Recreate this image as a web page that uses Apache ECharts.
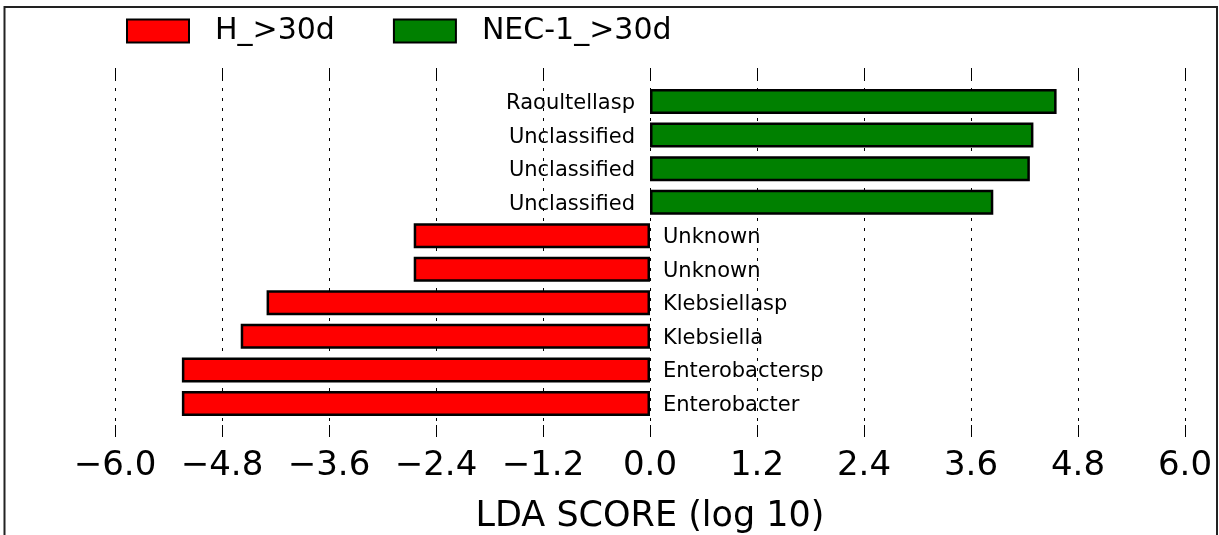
<!DOCTYPE html>
<html>
<head>
<meta charset="utf-8">
<script src="https://cdn.jsdelivr.net/npm/echarts@6/dist/echarts.min.js"></script>
<style>
html,body{margin:0;padding:0;background:#fff;}
#chart{width:1219px;height:535px;}
</style>
</head>
<body>
<div id="chart"></div>
<script>
// Categories top to bottom (padded with empty slots at both ends)
var categories = ['', 'Raoultellasp', 'Unclassified', 'Unclassified', 'Unclassified', 'Unknown', 'Unknown', 'Klebsiellasp', 'Klebsiella', 'Enterobactersp', 'Enterobacter', ''];
var seriesNames = ['H_>30d', 'NEC-1_>30d'];
var hValues   = [null, null, null, null, null, -2.65, -2.65, -4.30, -4.59, -5.25, -5.25, null];
var necValues = [null, 4.56, 4.30, 4.26, 3.85, null, null, null, null, null, null, null];
var xTicks = { min: -6, max: 6, interval: 1.2 };

var FONT = 'DejaVu Sans';
var axisData = categories.map(function (c, i) { return String(i); });

function barLabel(pos, dist) {
  return {
    show: true,
    position: pos,
    distance: dist,
    offset: [0, 2],
    fontFamily: FONT,
    fontSize: 21,
    color: '#000',
    formatter: function (p) { return categories[p.dataIndex]; }
  };
}

var chart = echarts.init(document.getElementById('chart'), null, { renderer: 'canvas' });
chart.setOption({
  animation: false,
  backgroundColor: '#fff',
  textStyle: { fontFamily: FONT },
  graphic: [{
    type: 'rect',
    shape: { x: 4.5, y: 7, width: 1212.5, height: 600 },
    style: { fill: 'none', stroke: '#222', lineWidth: 2 },
    silent: true,
    z: 100
  }],
  legend: {
    left: 126,
    top: 16,
    padding: 0,
    icon: 'rect',
    itemWidth: 62,
    itemHeight: 23,
    itemGap: 58,
    itemStyle: { borderColor: '#000', borderWidth: 2 },
    textStyle: { fontFamily: FONT, fontSize: 30, color: '#000', padding: [0, 0, 0, 21] },
    data: seriesNames
  },
  grid: { left: 115, right: 34, top: 68, bottom: 98, containLabel: false, outerBoundsMode: 'none' },
  xAxis: [{
    type: 'value',
    position: 'bottom',
    min: xTicks.min, max: xTicks.max, interval: xTicks.interval,
    axisLine: { show: false },
    axisTick: { show: true, inside: true, length: 12, lineStyle: { color: '#000', width: 1 } },
    axisLabel: {
      fontFamily: FONT, fontSize: 34, color: '#000', margin: 12,
      formatter: function (v) { return v.toFixed(1).replace('-', '\u2212'); }
    },
    splitLine: { show: true, lineStyle: { color: '#000', type: [3, 7], width: 1 } },
    name: 'LDA SCORE (log 10)',
    nameLocation: 'middle',
    nameGap: 62,
    nameTextStyle: { fontFamily: FONT, fontSize: 35, color: '#000' }
  }, {
    type: 'value',
    position: 'top',
    min: xTicks.min, max: xTicks.max, interval: xTicks.interval,
    axisLine: { show: false },
    axisTick: { show: true, inside: true, length: 12, lineStyle: { color: '#000', width: 1 } },
    axisLabel: { show: false },
    splitLine: { show: false }
  }],
  yAxis: {
    type: 'category',
    data: axisData,
    inverse: true,
    boundaryGap: false,
    axisLine: { show: false },
    axisTick: { show: false },
    axisLabel: { show: false },
    splitLine: { show: false }
  },
  series: [{
    name: seriesNames[0],
    type: 'bar',
    stack: 'all',
    barWidth: 25,
    data: hValues,
    itemStyle: { color: '#ff0000', borderColor: '#000', borderWidth: 2.5 },
    label: barLabel('right', 13)
  }, {
    name: seriesNames[1],
    type: 'bar',
    stack: 'all',
    barWidth: 25,
    data: necValues,
    itemStyle: { color: '#008000', borderColor: '#000', borderWidth: 2.5 },
    label: barLabel('left', 15)
  }]
});
</script>
</body>
</html>
